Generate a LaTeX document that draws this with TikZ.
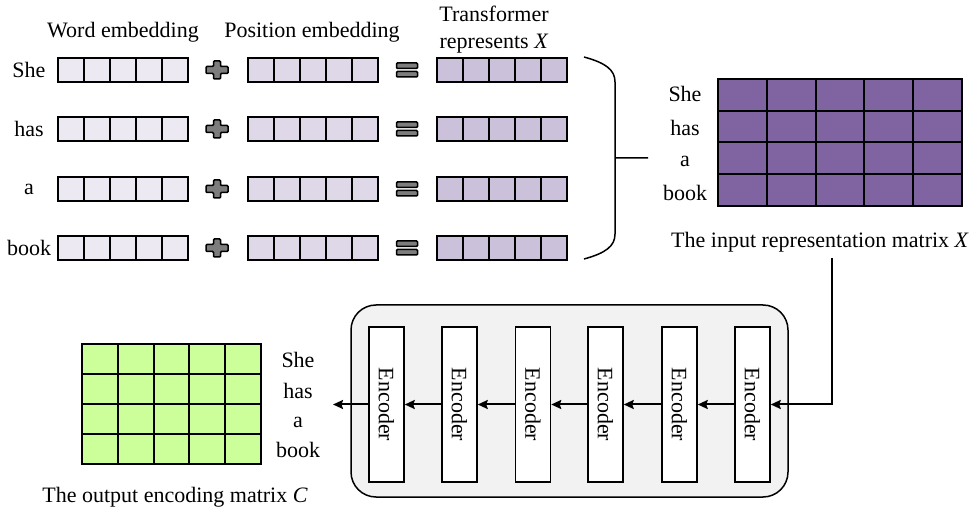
\documentclass[tikz,border=0pt]{standalone}
\usepackage{fontspec}
\setmainfont{Liberation Serif}
\usetikzlibrary{arrows.meta}
\definecolor{wordfill}{RGB}{236,233,243}
\definecolor{posfill}{RGB}{222,216,233}
\definecolor{repfill}{RGB}{204,193,218}
\definecolor{matfill}{RGB}{128,100,162}
\definecolor{outfill}{RGB}{204,255,153}
\definecolor{signfill}{RGB}{125,125,125}
\definecolor{boxfill}{RGB}{242,242,242}
\begin{document}
\begin{tikzpicture}[x=1pt,y=-1pt,line width=1.5pt,font=\fontsize{22}{27}\selectfont]

    \tikzstyle{cell}=[draw, minimum width=26pt, minimum height=24pt, inner sep=0pt]
    \tikzstyle{incell}=[draw, fill=matfill, line width=2pt, minimum width=48.8pt, minimum height=31.75pt, inner sep=0pt]
    \tikzstyle{outcell}=[draw, fill=outfill, line width=2pt, minimum width=35.8pt, minimum height=30pt, inner sep=0pt]
    \tikzstyle{encoder}=[draw, fill=white, rotate=-90, minimum width=155pt, minimum height=35pt, inner sep=0pt]
    \tikzstyle{arr}=[line width=2pt, -{Stealth[length=10pt, width=9pt, inset=1.5pt]}]

    \useasboundingbox (0,0) rectangle (975,510);

    \node (hword) at (123,32) {Word embedding};
    \node (hpos)  at (312,32) {Position embedding};
    \node[align=center, inner sep=0pt] (hrep) at (494,30) {Transformer\\represents \textit{X}};

    \foreach \y/\w [count=\i] in {70/She, 129/has, 189/a, 248/book} {
        \node (word\i) at (29,\y) {\w};
        \foreach \k in {1,...,5} {
            \node[cell, fill=wordfill] (we\i-\k) at ({45+26*\k},\y) {};
            \node[cell, fill=posfill]  (pe\i-\k) at ({235+26*\k},\y) {};
            \node[cell, fill=repfill]  (rx\i-\k) at ({424+26*\k},\y) {};
        }
        \filldraw[fill=signfill, rounded corners=1pt, shift={(217,\y)}]
            (-3.5,-9) -- (3.5,-9) -- (3.5,-3.5) -- (11,-3.5) -- (11,3.5) -- (3.5,3.5)
            -- (3.5,9) -- (-3.5,9) -- (-3.5,3.5) -- (-11,3.5) -- (-11,-3.5) -- (-3.5,-3.5) -- cycle;
        \filldraw[fill=signfill, rounded corners=1pt, shift={(407,\y)}]
            (-10.5,-7) rectangle (10.5,-1.5)
            (-10.5,1.5)  rectangle (10.5,7);
    }

    \draw (584,57) .. controls (606,63) and (615,70) .. (615,82) -- (615,234)
          .. controls (615,246) and (606,253) .. (584,259)
          (615,158) -- (648,158);

    \foreach \r in {1,...,4} {
        \foreach \c in {1,...,5} {
            \node[incell] (in\r-\c) at ({693.6+48.8*\c},{63.1+31.75*\r}) {};
            \node[outcell] (out\r-\c) at ({64.1+35.8*\c},{329+30*\r}) {};
        }
    }
    \foreach \y/\w [count=\i] in {94/She, 128/has, 161/a, 193/book} {
        \node (inlab\i) at (685,\y) {\w};
    }
    \foreach \y/\w [count=\i] in {360/She, 391/has, 422/a, 450/book} {
        \node (outlab\i) at (298,\y) {\w};
    }
    \node (incap)  at (820,242) {The input representation matrix \textit{X}};
    \node (outcap) at (175,497) {The output encoding matrix \textit{C}};

    \draw[fill=boxfill, rounded corners=25pt] (351,305) rectangle (788,497);
    \foreach \x [count=\i] in {386.5, 459.5, 533, 605.5, 679.5, 752.5} {
        \node[encoder] (enc\i) at (\x,404.5) {Encoder};
    }
    \foreach \i [evaluate=\i as \j using int(\i+1)] in {1,...,5} {
        \draw[arr] (enc\j) -- (enc\i);
    }

    \coordinate (xin) at (832,258);
    \coordinate (cout) at (333,404.5);
    \draw[arr] (xin) |- (enc6);
    \draw[arr] (enc1) -- (cout);

\end{tikzpicture}
\end{document}
